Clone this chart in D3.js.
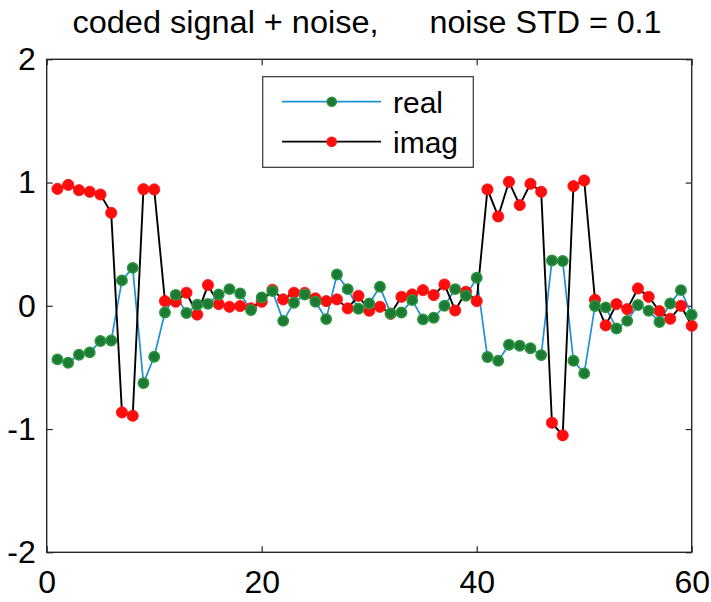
<!DOCTYPE html>
<html>
<head>
<meta charset="utf-8">
<script src="https://cdn.jsdelivr.net/npm/d3@7/dist/d3.min.js"></script>
<style>
  html, body { margin: 0; padding: 0; background: #fff; }
  svg { display: block; font-family: "Liberation Sans", Arial, sans-serif; }
</style>
</head>
<body>
<svg id="chart" width="711" height="602"></svg>
<script>
// Sample index 1..60 of the coded signal with additive noise
const sampleIndex = d3.range(1, 61);

// Real part of each sample
const realValues = [
  -0.435, -0.462, -0.397, -0.378, -0.286, -0.281, 0.206, 0.308, -0.627, -0.413,
  -0.054, 0.089, -0.059, 0.008, 0.016, 0.092, 0.135, 0.100, -0.035, 0.068,
  0.119, -0.122, 0.025, 0.092, 0.033, -0.108, 0.254, 0.135, -0.024, 0.019,
  0.154, -0.062, -0.054, 0.046, -0.110, -0.097, 0.000, 0.135, 0.081, 0.227,
  -0.416, -0.446, -0.316, -0.324, -0.345, -0.400, 0.368, 0.363, -0.446, -0.548,
  -0.002, -0.013, -0.184, -0.122, 0.006, -0.040, -0.132, 0.019, 0.127, -0.073
];

// Imaginary part of each sample
const imagValues = [
  0.949, 0.981, 0.938, 0.925, 0.903, 0.754, -0.865, -0.892, 0.946, 0.944,
  0.038, 0.033, 0.106, -0.071, 0.168, 0.014, -0.008, -0.002, -0.020, 0.033,
  0.130, 0.052, 0.106, 0.105, 0.060, 0.038, 0.052, -0.021, 0.081, -0.040,
  -0.008, -0.065, 0.073, 0.092, 0.127, 0.087, 0.173, -0.038, 0.114, 0.038,
  0.944, 0.725, 1.006, 0.817, 0.990, 0.925, -0.949, -1.051, 0.971, 1.017,
  0.049, -0.159, 0.014, -0.027, 0.141, 0.073, -0.043, -0.105, 0.000, -0.162
];

const xTicks = [0, 20, 40, 60];
const yTicks = [-2, -1, 0, 1, 2];
const seriesNames = ["real", "imag"];
const titleLeft = "coded signal + noise,";
const titleRight = "noise STD = 0.1";

const svg = d3.select("#chart");
const plot = { left: 46.7, right: 691.7, top: 59.3, bottom: 552.3 };

const x = d3.scaleLinear().domain([0, 60]).range([plot.left, plot.right]);
const y = d3.scaleLinear().domain([-2, 2]).range([plot.bottom, plot.top]);

const axisColor = "#262626";
const blue = "#1f8fd6";
const greenFill = "#1d7a34";
const greenEdge = "#2a963d";
const red = "#ff0d0d";

// Plain hyphen for negative tick labels
const plainFormat = d => String(d);

// Title in two pieces, with the wide gap between them
svg.append("text")
  .attr("x", 72.5).attr("y", 33.3)
  .attr("font-size", 31)
  .attr("textLength", 306).attr("lengthAdjust", "spacingAndGlyphs")
  .attr("fill", "#000")
  .text(titleLeft);
svg.append("text")
  .attr("x", 429.5).attr("y", 33.3)
  .attr("font-size", 31)
  .attr("textLength", 232).attr("lengthAdjust", "spacingAndGlyphs")
  .attr("fill", "#000")
  .text(titleRight);

// Axes: ticks point inward on all four sides of the box
function styleAxis(g) {
  g.select(".domain").remove();
  g.selectAll(".tick line").attr("stroke", axisColor).attr("stroke-width", 1.2);
  g.selectAll(".tick text").attr("font-size", 32).attr("fill", "#000")
    .attr("font-family", "'Liberation Sans', Arial, sans-serif");
}

svg.append("g")
  .attr("transform", `translate(0,${plot.bottom})`)
  .call(d3.axisBottom(x).tickValues(xTicks).tickFormat(plainFormat)
    .tickSizeInner(-6).tickSizeOuter(0).tickPadding(18))
  .call(styleAxis);

svg.append("g")
  .attr("transform", `translate(${plot.left},0)`)
  .call(d3.axisLeft(y).tickValues(yTicks).tickFormat(plainFormat)
    .tickSizeInner(-6).tickSizeOuter(0).tickPadding(11))
  .call(styleAxis);

svg.append("g")
  .attr("transform", `translate(0,${plot.top})`)
  .call(d3.axisTop(x).tickValues(xTicks).tickFormat("")
    .tickSizeInner(-6).tickSizeOuter(0))
  .call(styleAxis);

svg.append("g")
  .attr("transform", `translate(${plot.right},0)`)
  .call(d3.axisRight(y).tickValues(yTicks).tickFormat("")
    .tickSizeInner(-6).tickSizeOuter(0))
  .call(styleAxis);

// Box around the plot area
svg.append("rect")
  .attr("x", plot.left).attr("y", plot.top)
  .attr("width", plot.right - plot.left).attr("height", plot.bottom - plot.top)
  .attr("fill", "none").attr("stroke", axisColor).attr("stroke-width", 1.4);

const realData = sampleIndex.map((k, i) => ({ k, v: realValues[i] }));
const imagData = sampleIndex.map((k, i) => ({ k, v: imagValues[i] }));

const line = d3.line().x(d => x(d.k)).y(d => y(d.v));

const marks = svg.append("g");

marks.append("path").datum(realData)
  .attr("d", line).attr("fill", "none")
  .attr("stroke", blue).attr("stroke-width", 1.7).attr("stroke-linejoin", "round");

marks.append("path").datum(imagData)
  .attr("d", line).attr("fill", "none")
  .attr("stroke", "#000").attr("stroke-width", 1.9).attr("stroke-linejoin", "round");

marks.append("g").selectAll("circle").data(imagData).join("circle")
  .attr("cx", d => x(d.k)).attr("cy", d => y(d.v)).attr("r", 5.6)
  .attr("fill", red).attr("stroke", red).attr("stroke-width", 0.8);

marks.append("g").selectAll("circle").data(realData).join("circle")
  .attr("cx", d => x(d.k)).attr("cy", d => y(d.v)).attr("r", 5.2)
  .attr("fill", greenFill).attr("stroke", greenEdge).attr("stroke-width", 1.5);

// Legend
const legend = svg.append("g");
legend.append("rect")
  .attr("x", 262.7).attr("y", 76.7).attr("width", 210.6).attr("height", 90.6)
  .attr("fill", "#fff").attr("stroke", "#333").attr("stroke-width", 1.2);

const legendRows = [
  { name: seriesNames[0], stroke: blue, fill: greenFill, edge: greenEdge, cy: 101.7 },
  { name: seriesNames[1], stroke: "#000", fill: red, edge: red, cy: 141.7 }
];
legendRows.forEach(r => {
  legend.append("line")
    .attr("x1", 282).attr("x2", 381).attr("y1", r.cy).attr("y2", r.cy)
    .attr("stroke", r.stroke).attr("stroke-width", 1.7);
  legend.append("circle")
    .attr("cx", 331.7).attr("cy", r.cy).attr("r", 4.7)
    .attr("fill", r.fill).attr("stroke", r.edge).attr("stroke-width", 1.2);
  legend.append("text")
    .attr("x", 393).attr("y", r.cy + 11.6)
    .attr("font-size", 30).attr("fill", "#000")
    .text(r.name);
});
</script>
</body>
</html>
